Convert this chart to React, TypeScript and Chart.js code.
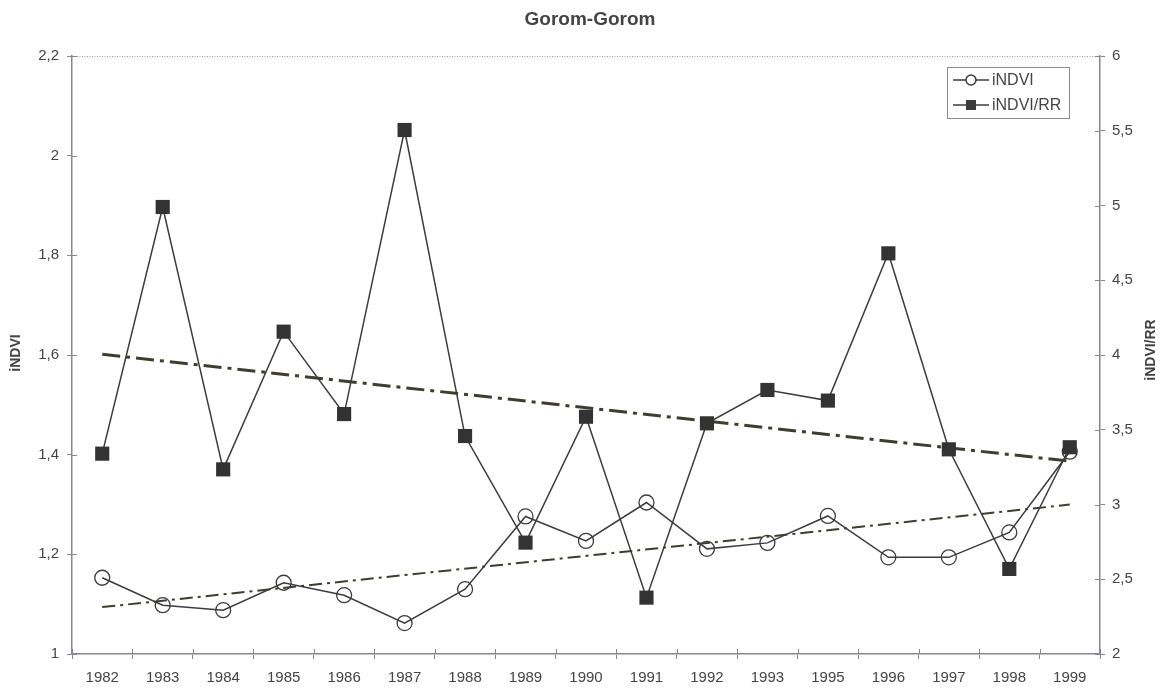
import { useEffect, useRef } from "react";
import { Chart, registerables } from "chart.js";

Chart.register(...registerables);

// Years on the category axis (1994 is absent from the record)
const years = [
  "1982", "1983", "1984", "1985", "1986", "1987", "1988", "1989", "1990",
  "1991", "1992", "1993", "1995", "1996", "1997", "1998", "1999",
];

// iNDVI (left axis)
const indvi = [
  1.153, 1.098, 1.088, 1.143, 1.118, 1.062, 1.13, 1.276, 1.227,
  1.304, 1.211, 1.223, 1.277, 1.194, 1.194, 1.244, 1.406,
];

// iNDVI/RR (right axis)
const indviRR = [
  3.34, 4.99, 3.235, 4.156, 3.605, 5.505, 3.458, 2.745, 3.587,
  2.377, 3.543, 3.766, 3.695, 4.68, 3.369, 2.569, 3.383,
];

const seriesNames = ["iNDVI", "iNDVI/RR"];
const chartTitle = "Gorom-Gorom";

const FONT = "'Liberation Sans', Arial, sans-serif";
const TEXT = "#444";
const AXIS = "#8a8590";
const LINE = "#3c3c3c";
const TREND = "#3e3d30";

// Least-squares straight line over the series, kept at its two ends
function trendEnds(values: number[]): (number | null)[] {
  const n = values.length;
  const mx = (n - 1) / 2;
  const my = values.reduce((a, b) => a + b, 0) / n;
  let sxy = 0;
  let sxx = 0;
  values.forEach((v, i) => {
    sxy += (i - mx) * (v - my);
    sxx += (i - mx) * (i - mx);
  });
  const slope = sxy / sxx;
  return values.map((_, i) =>
    i === 0 || i === n - 1 ? my + slope * (i - mx) : null
  );
}

const commaFmt = (v: number | string) =>
  String(Math.round(Number(v) * 10) / 10).replace(".", ",");

const decorPlugin = {
  id: "decor",
  afterDraw(chart: any) {
    const { ctx, chartArea } = chart;
    const { left, right, top, bottom } = chartArea;
    ctx.save();

    // dotted top frame
    ctx.strokeStyle = "#9a9aa0";
    ctx.lineWidth = 1;
    ctx.setLineDash([1, 1.5]);
    ctx.beginPath();
    ctx.moveTo(left, top + 0.5);
    ctx.lineTo(right, top + 0.5);
    ctx.stroke();
    ctx.setLineDash([]);

    // inner halves of the tick marks
    ctx.strokeStyle = AXIS;
    ctx.beginPath();
    const n = years.length;
    for (let i = 0; i <= n; i++) {
      const x = Math.round(left + ((right - left) * i) / n) + 0.5;
      ctx.moveTo(x, bottom);
      ctx.lineTo(x, bottom - 5);
    }
    const yl = chart.scales.y;
    yl.ticks.forEach((t: any) => {
      const y = Math.round(yl.getPixelForValue(t.value)) + 0.5;
      ctx.moveTo(left, y);
      ctx.lineTo(left + 5, y);
    });
    const yr = chart.scales.y1;
    yr.ticks.forEach((t: any) => {
      const y = Math.round(yr.getPixelForValue(t.value)) + 0.5;
      ctx.moveTo(right, y);
      ctx.lineTo(right - 5, y);
    });
    ctx.stroke();

    // title
    ctx.fillStyle = TEXT;
    ctx.font = `bold 19px ${FONT}`;
    ctx.textAlign = "center";
    ctx.textBaseline = "middle";
    ctx.fillText(chartTitle, 590, 20);

    // axis titles, reading bottom to top
    ctx.font = `bold 14px ${FONT}`;
    ctx.save();
    ctx.translate(16, 353);
    ctx.rotate(-Math.PI / 2);
    ctx.fillText(seriesNames[0], 0, 0);
    ctx.restore();
    ctx.save();
    ctx.translate(1151, 350);
    ctx.rotate(-Math.PI / 2);
    ctx.fillText(seriesNames[1], 0, 0);
    ctx.restore();

    // legend box
    const bx = 947, by = 67, bw = 122, bh = 51;
    ctx.fillStyle = "#fff";
    ctx.fillRect(bx, by, bw, bh);
    ctx.strokeStyle = "#8c8c8c";
    ctx.lineWidth = 1;
    ctx.strokeRect(bx + 0.5, by + 0.5, bw, bh);
    const rows = [80, 105];
    rows.forEach((ry, k) => {
      ctx.strokeStyle = LINE;
      ctx.lineWidth = 1.5;
      ctx.beginPath();
      ctx.moveTo(953, ry);
      ctx.lineTo(989, ry);
      ctx.stroke();
      if (k === 0) {
        ctx.fillStyle = "#fff";
        ctx.beginPath();
        ctx.arc(971, ry, 5, 0, Math.PI * 2);
        ctx.fill();
        ctx.stroke();
      } else {
        ctx.fillStyle = LINE;
        ctx.fillRect(966, ry - 5, 10, 10);
      }
      ctx.fillStyle = TEXT;
      ctx.font = `16px ${FONT}`;
      ctx.textAlign = "left";
      ctx.textBaseline = "middle";
      ctx.fillText(seriesNames[k], 992, ry + 1);
    });

    ctx.restore();
  },
};

export default function App() {
  const canvasRef = useRef<HTMLCanvasElement | null>(null);

  useEffect(() => {
    document.body.style.margin = "0";
    const canvas = canvasRef.current;
    if (!canvas) return;

    const chart = new Chart(canvas, {
      type: "line",
      data: {
        labels: years,
        datasets: [
          {
            label: seriesNames[0],
            data: indvi,
            yAxisID: "y",
            borderColor: LINE,
            borderWidth: 1.5,
            pointStyle: "circle",
            pointRadius: 7.5,
            pointBackgroundColor: "rgba(255,255,255,0)",
            pointBorderColor: LINE,
            pointBorderWidth: 1.3,
            tension: 0,
            order: 2,
          },
          {
            label: seriesNames[1],
            data: indviRR,
            yAxisID: "y1",
            borderColor: LINE,
            borderWidth: 1.5,
            pointStyle: "rect",
            pointRadius: 10,
            pointBackgroundColor: "#333333",
            pointBorderColor: "#333333",
            pointBorderWidth: 0,
            tension: 0,
            order: 1,
          },
          {
            label: "trend iNDVI",
            data: trendEnds(indvi),
            yAxisID: "y",
            borderColor: TREND,
            borderWidth: 2,
            borderDash: [13, 5, 3, 5],
            pointRadius: 0,
            spanGaps: true,
            order: 3,
          },
          {
            label: "trend iNDVI/RR",
            data: trendEnds(indviRR),
            yAxisID: "y1",
            borderColor: TREND,
            borderWidth: 3,
            borderDash: [18, 6, 4, 6],
            pointRadius: 0,
            spanGaps: true,
            order: 3,
          },
        ],
      },
      options: {
        animation: false,
        responsive: false,
        events: [],
        layout: { padding: { top: 56, left: 0, right: 0, bottom: 0 } },
        plugins: {
          legend: { display: false },
          title: { display: false },
          tooltip: { enabled: false },
        },
        scales: {
          x: {
            type: "category",
            offset: true,
            grid: {
              offset: true,
              drawOnChartArea: false,
              color: AXIS,
              tickLength: 5,
            },
            border: { color: AXIS, width: 1.5 },
            ticks: {
              color: TEXT,
              font: { family: FONT, size: 15 },
              padding: 10,
              maxRotation: 0,
              autoSkip: false,
            },
            afterFit(scale: any) {
              scale.height = 34;
            },
          },
          y: {
            type: "linear",
            position: "left",
            min: 1,
            max: 2.2,
            ticks: {
              stepSize: 0.2,
              color: TEXT,
              font: { family: FONT, size: 15 },
              padding: 8,
              callback: (v: any) => commaFmt(v),
            },
            grid: { drawOnChartArea: false, color: AXIS, tickLength: 5 },
            border: { color: AXIS, width: 1.5 },
            afterFit(scale: any) {
              scale.width = 72;
            },
          },
          y1: {
            type: "linear",
            position: "right",
            min: 2,
            max: 6,
            ticks: {
              stepSize: 0.5,
              color: TEXT,
              font: { family: FONT, size: 15 },
              padding: 7,
              callback: (v: any) => commaFmt(v),
            },
            grid: { drawOnChartArea: false, color: AXIS, tickLength: 5 },
            border: { color: AXIS, width: 1.5 },
            afterFit(scale: any) {
              scale.width = 63;
            },
          },
        },
      },
      plugins: [decorPlugin],
    });

    return () => chart.destroy();
  }, []);

  return (
    <div style={{ width: 1163, height: 688, background: "#fff" }}>
      <canvas ref={canvasRef} width={1163} height={688} />
    </div>
  );
}
